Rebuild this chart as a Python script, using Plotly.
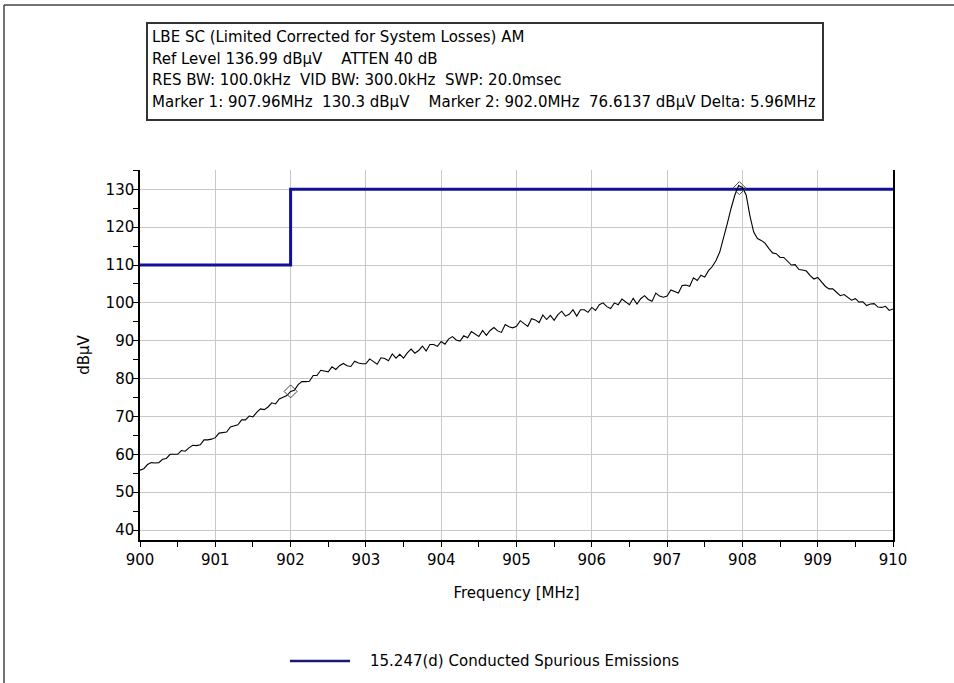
import plotly.graph_objects as go

# ---------------- data ----------------
freq_start = 900.0
freq_step = 0.05
level_dbuv = [
    55.8, 56.2, 57.3, 57.8, 57.7, 57.8, 58.7, 58.9, 60.0, 59.9,
    60.0, 61.0, 60.8, 61.7, 62.4, 62.3, 62.5, 63.8, 63.8, 64.0,
    64.4, 65.6, 65.8, 65.9, 67.2, 67.6, 67.8, 69.1, 69.1, 70.1,
    69.9, 71.1, 72.0, 71.8, 72.5, 73.6, 73.3, 74.6, 75.1, 75.5,
    76.6, 76.9, 78.4, 79.2, 79.2, 79.3, 80.8, 80.8, 82.2, 82.0,
    81.8, 83.1, 82.4, 83.4, 84.0, 83.4, 83.2, 84.6, 84.1, 83.9,
    83.9, 85.2, 84.4, 83.8, 85.5, 85.3, 84.7, 86.5, 85.4, 86.4,
    85.4, 86.8, 87.8, 86.7, 87.4, 88.6, 87.3, 89.0, 89.0, 88.5,
    89.8, 89.1, 90.5, 91.1, 90.2, 89.9, 91.3, 90.8, 92.4, 91.7,
    91.1, 92.7, 91.4, 92.7, 93.5, 92.6, 92.2, 94.3, 93.7, 93.4,
    93.8, 95.3, 94.5, 93.8, 95.8, 95.5, 94.8, 96.8, 95.6, 96.7,
    95.4, 96.9, 97.8, 96.5, 97.0, 98.2, 96.5, 98.2, 98.2, 97.5,
    98.8, 98.0, 99.5, 100.0, 99.0, 98.5, 100.0, 99.5, 101.0, 100.2,
    99.5, 101.2, 99.7, 101.1, 101.9, 100.9, 100.4, 102.6, 101.8, 101.5,
    101.8, 103.4, 102.9, 102.6, 104.6, 104.7, 104.4, 106.6, 105.9, 107.3,
    106.8, 108.5, 109.6, 111.2, 113.5, 117.0, 121.0, 125.0, 128.5, 131.0,
    130.5, 128.5, 123.0, 118.7, 117.0, 116.5, 115.8, 114.4, 113.2, 113.0,
    112.0, 112.0, 111.0, 110.0, 110.1, 108.8, 108.7, 108.4, 107.2, 106.3,
    106.7, 105.5, 104.4, 103.7, 103.7, 102.8, 101.9, 102.2, 101.5, 100.7,
    101.1, 100.2, 100.3, 99.3, 99.7, 99.8, 98.9, 98.8, 99.1, 98.0,
    98.4,
]
freq_mhz = [round(freq_start + i * freq_step, 3) for i in range(len(level_dbuv))]

limit_freq = [900, 902, 902, 910]
limit_level = [110, 110, 130, 130]
limit_name = "15.247(d) Conducted Spurious Emissions"

marker_freq = [907.96, 902.0]
marker_level = [130.3, 76.6137]

x_ticks = [900, 901, 902, 903, 904, 905, 906, 907, 908, 909, 910]
y_ticks = [40, 50, 60, 70, 80, 90, 100, 110, 120, 130]

header_lines = [
    "LBE SC (Limited Corrected for System Losses) AM",
    "Ref Level 136.99 dBµV    ATTEN 40 dB",
    "RES BW: 100.0kHz  VID BW: 300.0kHz  SWP: 20.0msec",
    "Marker 1: 907.96MHz  130.3 dBµV    Marker 2: 902.0MHz  76.6137 dBµV Delta: 5.96MHz",
]

# ---------------- layout geometry (pixels) ----------------
W, H = 954, 683
L, R, T, B = 140, 893, 170, 540
PW, PH = R - L, B - T


def px(x):
    return (x - L) / PW


def py(y):
    return (B - y) / PH


FONT = "DejaVu Sans, Verdana, sans-serif"
FS = 15
LIMIT_COLOR = "#10109a"

fig = go.Figure()
fig.add_trace(go.Scatter(x=limit_freq, y=limit_level, mode="lines",
                         line=dict(color=LIMIT_COLOR, width=3),
                         name=limit_name, showlegend=False, hoverinfo="skip"))
fig.add_trace(go.Scatter(x=freq_mhz, y=level_dbuv, mode="lines",
                         line=dict(color="black", width=1.1),
                         name="Trace", showlegend=False))
fig.add_trace(go.Scatter(x=marker_freq, y=marker_level, mode="markers",
                         marker=dict(symbol="diamond-open", size=10,
                                     color="#444444", line=dict(width=1)),
                         name="Markers", showlegend=False))

yr = [37.36, 135.1]
xr = [900, 910]

axis_common = dict(showline=True, linecolor="black", linewidth=1.5,
                   tickfont=dict(family=FONT, size=FS, color="black"),
                   zeroline=False)

fig.update_layout(
    width=W, height=H,
    margin=dict(l=L, r=W - R, t=T, b=H - B, pad=0),
    paper_bgcolor="white", plot_bgcolor="white",
    font=dict(family=FONT, color="black"),
    showlegend=False,
    xaxis=dict(range=xr, tickvals=x_ticks, ticks="outside", ticklen=5,
               tickcolor="black", tickwidth=1,
               minor=dict(dtick=0.5, ticks="outside", ticklen=5,
                          tickcolor="black", showgrid=False),
               showgrid=True, gridcolor="#c8c8c8", gridwidth=1,
               title=dict(text="Frequency [MHz]",
                          font=dict(family=FONT, size=FS), standoff=20),
               **axis_common),
    yaxis=dict(range=yr, tickvals=y_ticks, ticks="outside", ticklen=5,
               tickcolor="black", tickwidth=1, ticklabelstandoff=-4,
               minor=dict(tick0=35, dtick=5, ticks="outside", ticklen=5,
                          tickcolor="black", showgrid=False),
               showgrid=True, gridcolor="#c8c8c8", gridwidth=1,
               mirror=True,
               title=dict(text="dBµV", font=dict(family=FONT, size=FS),
                          standoff=12),
               **axis_common),
    xaxis2=dict(range=xr, overlaying="x", side="bottom", tickvals=x_ticks,
                ticks="inside", ticklen=5, tickcolor="black",
                minor=dict(dtick=0.5, ticks="inside", ticklen=5, tickcolor="black"),
                showticklabels=False, showgrid=False, showline=False,
                zeroline=False),
    yaxis2=dict(range=yr, overlaying="y", side="left", tickvals=y_ticks,
                ticks="inside", ticklen=5, tickcolor="black",
                minor=dict(tick0=35, dtick=5, ticks="inside", ticklen=5,
                           tickcolor="black"),
                showticklabels=False, showgrid=False, showline=False,
                zeroline=False),
)

shapes = []
# outer frame (top and left edges)
shapes.append(dict(type="line", xref="paper", yref="paper",
                   x0=px(4), x1=px(W + 5), y0=py(5), y1=py(5),
                   line=dict(color="#444444", width=1.5)))
shapes.append(dict(type="line", xref="paper", yref="paper",
                   x0=px(4), x1=px(4), y0=py(5), y1=py(H + 5),
                   line=dict(color="#444444", width=1.5)))
# header box
shapes.append(dict(type="rect", xref="paper", yref="paper",
                   x0=px(147), x1=px(823), y0=py(23), y1=py(120),
                   line=dict(color="#333333", width=2), fillcolor="white"))
# legend line
shapes.append(dict(type="line", xref="paper", yref="paper",
                   x0=px(290), x1=px(350), y0=py(661), y1=py(661),
                   line=dict(color="#1a1a70", width=2.5)))
fig.update_layout(shapes=shapes)

annotations = []
for i, line in enumerate(header_lines):
    annotations.append(dict(text=line, xref="paper", yref="paper",
                            x=px(150), y=py(37 + i * 21.7),
                            xanchor="left", yanchor="middle", showarrow=False,
                            font=dict(family=FONT, size=FS, color="black")))
annotations.append(dict(text=limit_name, xref="paper", yref="paper",
                        x=px(368), y=py(661), xanchor="left", yanchor="middle",
                        showarrow=False,
                        font=dict(family=FONT, size=FS, color="black")))
fig.update_layout(annotations=annotations)

fig.write_html("out.html")
